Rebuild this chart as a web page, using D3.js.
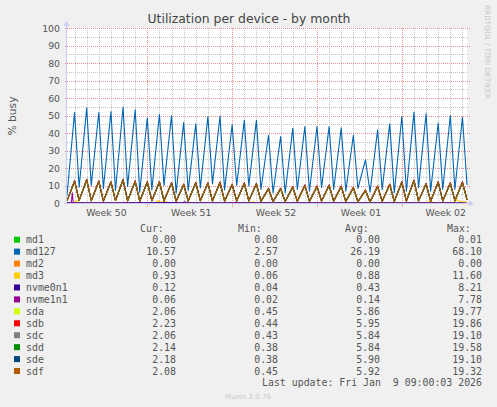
<!DOCTYPE html>
<html>
<head>
<meta charset="utf-8">
<script src="https://cdn.jsdelivr.net/npm/d3@7"></script>
<style>
body { margin: 0; background: #f0f0f0; }
svg { display: block; }
</style>
</head>
<body>
<svg id="chart" width="497" height="407"></svg>
<script>

// Time span of the graph (Munin "by month" = 33 days)
const startTime = new Date(2025, 11, 7, 9, 0, 0)
const endTime = new Date(2026, 0, 9, 9, 0, 3)

// Series, in drawing order
const seriesNames = ['md1', 'md127', 'md2', 'md3', 'nvme0n1', 'nvme1n1', 'sda', 'sdb', 'sdc', 'sdd', 'sde', 'sdf']
const seriesColors = ['#00cc00', '#0066b3', '#ff8000', '#ffcc00', '#330099', '#990099', '#ccff00', '#ff0000', '#808080', '#008f00', '#00487d', '#b35a00']

// Legend values
const curVals = ['0.00', '10.57', '0.00', '0.93', '0.12', '0.06', '2.06', '2.23', '2.06', '2.14', '2.18', '2.08']
const minVals = ['0.00', '2.57', '0.00', '0.06', '0.04', '0.02', '0.45', '0.44', '0.43', '0.38', '0.38', '0.45']
const avgVals = ['0.00', '26.19', '0.00', '0.88', '0.43', '0.14', '5.86', '5.95', '5.84', '5.84', '5.90', '5.92']
const maxVals = ['0.01', '68.10', '0.00', '11.60', '8.21', '7.78', '19.77', '19.86', '19.10', '19.58', '19.10', '19.32']

// Daily cycles: troughs at 09:00 (Dec 7 .. Jan 8), peaks at midnight (Dec 8 .. Jan 9)
const md127Troughs = [4.6, 9.3, 10.3, 8.4, 7.4, 9.7, 6.5, 7.8, 10.3, 5.9, 7.4, 8.9, 11.2, 7.8, 10.3, 10.0, 8.0, 6.0, 6.0, 8.0, 7.0, 9.0, 8.0, 7.0, 8.6, 6.5, 8.0, 6.0, 7.0, 9.0, 7.0, 8.0, 8.0]
const md127Peaks = [52, 54.5, 52, 52.5, 55, 53.5, 49, 51, 50.3, 46.2, 45.5, 49.7, 50, 45, 47.5, 47.5, 39, 38.3, 43, 44, 44, 44, 43.2, 39, 25, 42, 45.5, 49.7, 52.2, 51.2, 46, 50.3, 49.3]

const sdaTroughs = [1.4, 1.7, 1.5, 1.4, 1.6, 1.5, 1.2, 1.5, 1.4, 1.2, 1.3, 1.5, 1.4, 1.2, 1.4, 1.4, 1.1, 1.0, 1.0, 1.2, 1.2, 1.3, 1.2, 1.1, 0.9, 0.9, 1.1, 1.0, 1.3, 1.4, 1.2, 1.3, 1.5]
const sdaPeaks = [12.5, 13.2, 12.4, 12.0, 13.3, 12.5, 12.0, 12.0, 11.4, 10.6, 11.6, 11.4, 11.8, 10.6, 11.3, 11.0, 8.2, 8.3, 9.1, 10.1, 9.5, 10.1, 9.5, 8.8, 7.2, 9.5, 10.6, 12.0, 12.9, 11.0, 12.0, 11.4, 11.8]
const sdbTroughs = [1.6, 1.9, 1.7, 1.5, 1.8, 1.6, 1.4, 1.7, 1.6, 1.3, 1.5, 1.7, 1.6, 1.4, 1.5, 1.6, 1.3, 1.1, 1.2, 1.4, 1.3, 1.5, 1.4, 1.2, 1.1, 1.0, 1.3, 1.2, 1.5, 1.6, 1.4, 1.5, 1.7]
const sdbPeaks = [13.2, 13.9, 13.0, 12.6, 13.9, 13.1, 12.6, 12.6, 12.0, 11.2, 12.2, 12.0, 12.4, 11.2, 11.9, 11.6, 8.8, 8.8, 9.7, 10.7, 10.1, 10.7, 10.1, 9.4, 7.8, 10.1, 11.2, 12.6, 13.5, 11.6, 12.6, 12.0, 12.5]
const sdcTroughs = [1.5, 1.7, 1.6, 1.3, 1.7, 1.4, 1.3, 1.6, 1.4, 1.2, 1.4, 1.5, 1.5, 1.3, 1.3, 1.5, 1.2, 0.9, 1.1, 1.3, 1.1, 1.4, 1.3, 1.0, 1.0, 0.8, 1.2, 1.1, 1.4, 1.4, 1.3, 1.4, 1.6]
const sdcPeaks = [12.6, 13.4, 12.5, 12.1, 13.4, 12.6, 12.1, 12.1, 11.5, 10.7, 11.7, 11.5, 11.9, 10.7, 11.4, 11.1, 8.3, 8.3, 9.2, 10.2, 9.6, 10.2, 9.6, 8.9, 7.3, 9.6, 10.7, 12.1, 13.0, 11.1, 12.1, 11.5, 11.9]
const sddTroughs = [1.5, 1.8, 1.5, 1.4, 1.7, 1.5, 1.3, 1.5, 1.5, 1.2, 1.4, 1.6, 1.4, 1.3, 1.4, 1.5, 1.2, 1.0, 1.1, 1.2, 1.2, 1.4, 1.3, 1.1, 1.0, 0.9, 1.2, 1.1, 1.3, 1.5, 1.3, 1.4, 1.5]
const sddPeaks = [12.6, 13.3, 12.5, 12.1, 13.4, 12.6, 12.1, 12.1, 11.5, 10.7, 11.7, 11.5, 11.9, 10.7, 11.4, 11.1, 8.3, 8.4, 9.2, 10.2, 9.6, 10.2, 9.6, 8.9, 7.3, 9.6, 10.7, 12.1, 13.0, 11.1, 12.1, 11.5, 11.9]
const sdeTroughs = [1.5, 1.8, 1.6, 1.4, 1.7, 1.6, 1.3, 1.6, 1.5, 1.3, 1.4, 1.6, 1.5, 1.3, 1.5, 1.5, 1.2, 1.0, 1.2, 1.3, 1.2, 1.4, 1.4, 1.1, 1.0, 0.9, 1.2, 1.2, 1.4, 1.5, 1.3, 1.4, 1.6]
const sdePeaks = [12.8, 13.6, 12.7, 12.3, 13.6, 12.8, 12.3, 12.3, 11.7, 10.9, 11.9, 11.7, 12.1, 10.9, 11.6, 11.3, 8.5, 8.5, 9.4, 10.4, 9.8, 10.4, 9.8, 9.1, 7.5, 9.8, 10.9, 12.3, 13.2, 11.3, 12.3, 11.7, 12.1]
const sdfTroughs = [1.5, 1.8, 1.6, 1.4, 1.7, 1.5, 1.3, 1.6, 1.5, 1.2, 1.4, 1.6, 1.5, 1.3, 1.4, 1.5, 1.2, 1.0, 1.1, 1.3, 1.2, 1.4, 1.3, 1.1, 1.0, 0.9, 1.2, 1.1, 1.4, 1.5, 1.3, 1.4, 1.6]
const sdfPeaks = [12.7, 13.5, 12.6, 12.2, 13.5, 12.7, 12.2, 12.2, 11.6, 10.8, 11.8, 11.6, 12.0, 10.8, 11.5, 11.2, 8.4, 8.4, 9.3, 10.3, 9.7, 10.3, 9.7, 9.0, 7.4, 9.7, 10.8, 12.2, 13.1, 11.2, 12.2, 11.6, 12.0]

// Low series as [hours after start, value]
const md1Points = [[0, 0], [400, 0.01], [792, 0]]
const md2Points = [[0, 0], [792, 0]]
const md3Points = [[0, 0.5], [15, 0.6], [19, 1.7], [23, 0.5], [100, 0.4], [176, 0.5], [180, 1.7], [186, 0.6], [194, 1.4], [200, 0.5], [300, 0.4], [364, 0.5], [368, 1.2], [372, 0.5], [500, 0.4], [600, 0.5], [712, 0.5], [719, 1.4], [726, 0.5], [765, 0.6], [772, 2.2], [780, 0.9], [792, 0.93]]
const nvme0n1Points = [[0, 0.45], [100, 0.4], [200, 0.5], [229, 0.4], [233, 1.0], [237, 0.4], [300, 0.4], [400, 0.45], [500, 0.4], [600, 0.45], [700, 0.4], [780, 0.4], [792, 0.12]]
const nvme1n1Points = [[0, 0.1], [8.5, 0.1], [10.5, 6.1], [12.5, 0.1], [330, 0.1], [334, 0.8], [338, 0.1], [792, 0.06]]

// Layout
const width = 497, height = 407
const plotLeft = 67, plotRight = 467, plotTop = 28, plotBottom = 203
const legendTop = 239.7, legendStep = 11.94
const gridMinor = '#c4c4c4', gridMajor = '#e89090', axisColor = '#c8ccf4', fontColor = '#555555'

const hour = 3600 * 1000
const atHours = h => new Date(startTime.getTime() + h * hour)

function sawPoints(troughs, peaks, last) {
    const pts = []
    troughs.forEach(function(t, i) {
        pts.push([atHours(i * 24), t])
        pts.push([atHours(i * 24 + 15), peaks[i]])
    })
    pts.push([endTime, last])
    return pts
}

const sparse = pts => pts.map(p => [atHours(p[0]), p[1]])

const seriesData = [
    sparse(md1Points),
    sawPoints(md127Troughs, md127Peaks, +curVals[1]),
    sparse(md2Points),
    sparse(md3Points),
    sparse(nvme0n1Points),
    sparse(nvme1n1Points),
    sawPoints(sdaTroughs, sdaPeaks, +curVals[6]),
    sawPoints(sdbTroughs, sdbPeaks, +curVals[7]),
    sawPoints(sdcTroughs, sdcPeaks, +curVals[8]),
    sawPoints(sddTroughs, sddPeaks, +curVals[9]),
    sawPoints(sdeTroughs, sdePeaks, +curVals[10]),
    sawPoints(sdfTroughs, sdfPeaks, +curVals[11])
]

const svg = d3.select('#chart')

const x = d3.scaleTime().domain([startTime, endTime]).range([plotLeft, plotRight])
const y = d3.scaleLinear().domain([0, 100]).range([plotBottom, plotTop])

// Canvas
svg.append('rect')
    .attr('x', plotLeft).attr('y', plotTop)
    .attr('width', plotRight - plotLeft).attr('height', plotBottom - plotTop)
    .attr('fill', '#ffffff')

const grid = svg.append('g')

// Dotted lines drawn as rows of single pixels so nothing gets smeared
function dottedH(yy, x1, x2, color) {
    const py = Math.round(yy)
    grid.append('g').attr('fill', color).selectAll('rect')
        .data(d3.range(Math.round(x1), Math.round(x2) + 1, 2)).enter().append('rect')
        .attr('x', d => d).attr('y', py).attr('width', 1).attr('height', 1)
}
function dottedV(xx, y1, y2, color) {
    const px = Math.round(xx)
    grid.append('g').attr('fill', color).selectAll('rect')
        .data(d3.range(Math.round(y1), Math.round(y2) + 1, 2)).enter().append('rect')
        .attr('x', px).attr('y', d => d).attr('width', 1).attr('height', 1)
}

const yMinor = y.ticks(20).filter(v => v % 10 != 0)
const yMajor = y.ticks(10)
const days = d3.timeDay.range(startTime, endTime).filter(d => d.getDay() != 0)
const weeks = d3.timeSunday.range(startTime, endTime)

yMinor.forEach(v => dottedH(y(v), plotLeft, plotRight, gridMinor))
days.forEach(d => dottedV(x(d), plotTop, plotBottom, gridMinor))
yMajor.forEach(v => dottedH(y(v), plotLeft - 2, plotRight + 2, gridMajor))
weeks.forEach(d => dottedV(x(d), plotTop, plotBottom + 3, gridMajor))

// Axes
grid.append('rect')
    .attr('x', plotLeft - 1).attr('y', plotTop - 2)
    .attr('width', 1).attr('height', plotBottom - plotTop + 3)
    .attr('fill', axisColor)
grid.append('rect')
    .attr('x', plotLeft - 1).attr('y', plotBottom)
    .attr('width', plotRight - plotLeft + 3).attr('height', 1)
    .attr('fill', axisColor)

svg.append('path')
    .attr('d', `M${plotLeft - 3.5},${plotTop - 2}L${plotLeft + 2.5},${plotTop - 2}L${plotLeft - 0.5},${plotTop - 7}Z`)
    .attr('fill', axisColor)
svg.append('path')
    .attr('d', `M${plotRight + 2},${plotBottom - 2.5}L${plotRight + 2},${plotBottom + 3.5}L${plotRight + 7},${plotBottom + 0.5}Z`)
    .attr('fill', axisColor)

// Data lines
const clip = svg.append('clipPath').attr('id', 'plotclip')
clip.append('rect')
    .attr('x', plotLeft).attr('y', plotTop - 1)
    .attr('width', plotRight - plotLeft + 1).attr('height', plotBottom - plotTop + 1)

const line = d3.line()
    .x(d => x(d[0]))
    .y(d => y(d[1]) + 0.5)

svg.append('g').attr('clip-path', 'url(#plotclip)')
    .selectAll('path').data(seriesData).enter().append('path')
    .attr('d', line)
    .attr('fill', 'none')
    .attr('stroke', (_, i) => seriesColors[i])
    .attr('stroke-width', 1.1)
    .attr('stroke-linejoin', 'round')

// Y tick labels
svg.append('g').selectAll('text').data(yMajor).enter().append('text')
    .attr('x', plotLeft - 7)
    .attr('y', d => y(d) + 3.5)
    .attr('text-anchor', 'end')
    .attr('font-family', 'DejaVu Sans')
    .attr('font-size', '9.33px')
    .attr('fill', fontColor)
    .text(d => d)

// Week labels, centred in each week
const weekLabels = d3.timeSunday.range(d3.timeDay.offset(startTime, -7), endTime)
    .map(d => d3.timeHour.offset(d, 84))
    .filter(d => d >= startTime && d <= endTime)

svg.append('g').selectAll('text').data(weekLabels).enter().append('text')
    .attr('x', d => x(d) + 1.5)
    .attr('y', 216)
    .attr('text-anchor', 'middle')
    .attr('font-family', 'DejaVu Sans')
    .attr('font-size', '9.33px')
    .attr('fill', fontColor)
    .text(d => 'Week ' + d3.timeFormat('%V')(d))

// Title and axis label
svg.append('text')
    .attr('x', 249).attr('y', 23)
    .attr('text-anchor', 'middle')
    .attr('font-family', 'DejaVu Sans')
    .attr('font-size', '12.4px')
    .attr('fill', '#444444')
    .text('Utilization per device - by month')

svg.append('text')
    .attr('transform', 'translate(15.5,116) rotate(-90)')
    .attr('text-anchor', 'middle')
    .attr('font-family', 'DejaVu Sans')
    .attr('font-size', '10.7px')
    .attr('fill', fontColor)
    .text('% busy')

svg.append('text')
    .attr('transform', 'translate(485,5) rotate(90)')
    .attr('font-family', 'DejaVu Sans')
    .attr('font-size', '7.3px')
    .attr('fill', '#c8c8c8')
    .text('RRDTOOL / TOBI OETIKER')

// Legend
const mono = 'DejaVu Sans Mono'
const legend = svg.append('g')
    .attr('font-family', mono)
    .attr('font-size', '9.9px')
    .attr('fill', fontColor)

const headers = [['Cur:', 140], ['Min:', 238], ['Avg:', 345], ['Max:', 447]]
legend.selectAll('text.head').data(headers).enter().append('text')
    .attr('x', d => d[1]).attr('y', legendTop - 11.2 + 3.5)
    .text(d => d[0])

const rows = legend.selectAll('g.row').data(seriesNames).enter().append('g')
    .attr('transform', (_, i) => `translate(0,${legendTop + i * legendStep})`)

rows.append('rect')
    .attr('x', 14).attr('y', -3)
    .attr('width', 6).attr('height', 6)
    .attr('fill', (_, i) => seriesColors[i])

rows.append('text').attr('x', 26).attr('y', 3.5).text(d => d)

const columns = [[curVals, 176], [minVals, 278], [avgVals, 380], [maxVals, 482]]
columns.forEach(function(c) {
    rows.append('text')
        .attr('x', c[1]).attr('y', 3.5)
        .attr('text-anchor', 'end')
        .text((_, i) => c[0][i])
})

legend.append('text')
    .attr('x', 482).attr('y', legendTop + 12 * legendStep + 3.5)
    .attr('text-anchor', 'end')
    .attr('xml:space', 'preserve')
    .style('white-space', 'pre')
    .text('Last update: Fri Jan  9 09:00:03 2026')

svg.append('text')
    .attr('x', 248).attr('y', 398.5)
    .attr('text-anchor', 'middle')
    .attr('font-family', 'DejaVu Sans')
    .attr('font-size', '7px')
    .attr('fill', '#c8c8c8')
    .text('Munin 2.0.76')

</script>
</body>
</html>
